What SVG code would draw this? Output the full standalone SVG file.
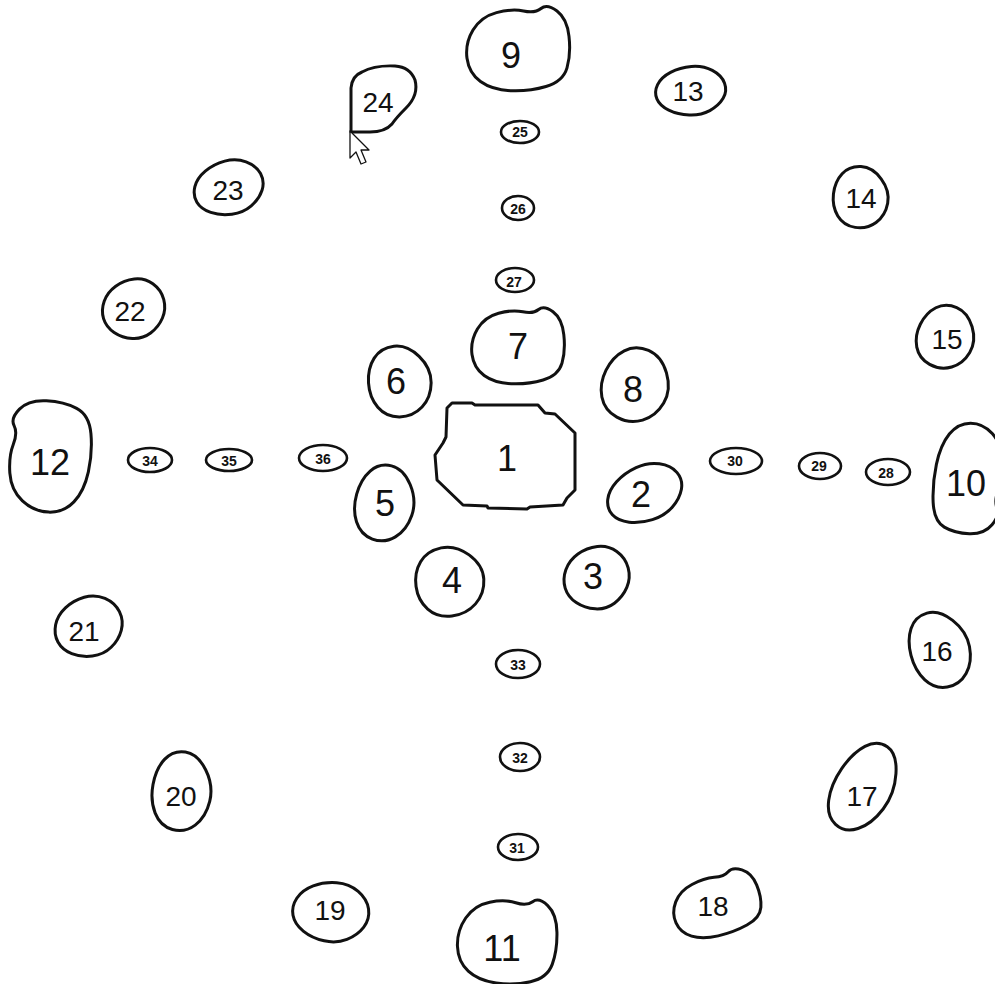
<svg xmlns="http://www.w3.org/2000/svg" xmlns:xlink="http://www.w3.org/1999/xlink" width="995" height="984" viewBox="0 0 995 984">
<style>
.b{fill:#fff;stroke:#111;stroke-width:3;vector-effect:non-scaling-stroke;stroke-linejoin:round}
.s{fill:#fff;stroke:#111;stroke-width:2.6}
.t{font-family:"Liberation Sans",Arial,sans-serif;fill:#111;text-anchor:middle;dominant-baseline:central}
.L{font-size:36px}
.M{font-size:28px}
.S{font-size:14px;font-weight:bold}
</style>
<defs>
<path id="T1" class="b" d="M46,15 Q40,30 27.5,40 Q15,50 -1,49 Q-17,48 -29.5,39 Q-42,30 -46,16 Q-50,2 -45,-13 Q-40,-28 -27,-38 Q-14,-48 2,-50 Q18,-52 31,-42 Q44,-32 48,-16 Q52,0 46,15 Z"/>
<path id="T2" class="b" d="M50,21.5 Q46,38 29,44 Q12,50 -6.5,49 Q-25,48 -36.5,38 Q-48,28 -50,10 Q-52,-8 -44,-24 Q-36,-40 -20.5,-45 Q-5,-50 6.5,-47 Q18,-44 24,-50 Q30,-56 40,-47 Q50,-38 52,-16.5 Q54,5 50,21.5 Z"/>
<path id="T3" class="b" d="M46,10 Q42,30 26,41 Q10,52 -10,49 Q-30,46 -40,30.5 Q-50,15 -47.5,-5 Q-45,-25 -32.5,-37.5 Q-20,-50 0,-49 Q20,-48 35,-29 Q50,-10 46,10 Z"/>
</defs>
<rect width="995" height="984" fill="#fff"/>
<g id="connectors"></g>

<g id="n1"><path class="b" d="M452,403 L472,403 L475,405 L538,405 L545,413 L555,414 L575,433 L575,490 L567,498 L563,505 L530,507 L527,509 L488,508 L487,506 L463,505 L437,480 L435,455 L443,443 L446,437 L447,408 Z"/><text class="t L" x="507" y="458">1</text></g>
<g id="n2"><use xlink:href="#T1" transform="translate(644,494) rotate(-20) scale(0.8,0.55)"/><text class="t L" x="641" y="494">2</text></g>
<g id="n3"><use xlink:href="#T1" transform="translate(596,578) scale(0.67,0.63)"/><text class="t L" x="593" y="576">3</text></g>
<g id="n4"><use xlink:href="#T3" transform="translate(450,581) rotate(-15) scale(0.72,0.7)"/><text class="t L" x="452" y="580">4</text></g>
<g id="n5"><use xlink:href="#T3" transform="translate(385,503) rotate(10) scale(0.62,0.77)"/><text class="t L" x="385" y="503">5</text></g>
<g id="n6"><use xlink:href="#T3" transform="translate(400,381) rotate(-10) scale(0.66,0.72)"/><text class="t L" x="396" y="381">6</text></g>
<g id="n7"><use xlink:href="#T2" transform="translate(517,347) scale(0.9,0.75)"/><text class="t L" x="518" y="346">7</text></g>
<g id="n8"><use xlink:href="#T3" transform="translate(636,385) rotate(20) scale(0.7,0.75)"/><text class="t L" x="633" y="389">8</text></g>
<g id="n9"><use xlink:href="#T2" transform="translate(517,50) scale(1.0,0.83)"/><text class="t L" x="511" y="55">9</text></g>
<g id="n10"><use xlink:href="#T2" transform="translate(968,477) rotate(100) scale(1.07,0.68)"/><text class="t L" x="966" y="483">10</text></g>
<g id="n11"><use xlink:href="#T2" transform="translate(506,942) rotate(5) scale(0.96,0.85)"/><text class="t L" x="502" y="948">11</text></g>
<g id="n12"><use xlink:href="#T2" transform="translate(50,458) rotate(-80) scale(1.07,0.82)"/><text class="t L" x="50" y="462">12</text></g>
<g id="n13"><use xlink:href="#T1" transform="translate(690,91) scale(0.72,0.49)"/><text class="t M" x="688" y="91">13</text></g>
<g id="n14"><use xlink:href="#T3" transform="translate(861,197) scale(0.58,0.62)"/><text class="t M" x="861" y="198">14</text></g>
<g id="n15"><use xlink:href="#T3" transform="translate(946,337) rotate(20) scale(0.6,0.64)"/><text class="t M" x="947" y="339">15</text></g>
<g id="n16"><use xlink:href="#T3" transform="translate(940,649) rotate(-20) scale(0.62,0.78)"/><text class="t M" x="937" y="651">16</text></g>
<g id="n17"><use xlink:href="#T3" transform="translate(864,787) rotate(30) scale(0.6,0.95)"/><text class="t M" x="862" y="796">17</text></g>
<g id="n18"><use xlink:href="#T2" transform="translate(716,906) rotate(-15) scale(0.86,0.6)"/><text class="t M" x="713" y="906">18</text></g>
<g id="n19"><use xlink:href="#T1" transform="translate(330,912) rotate(10) scale(0.78,0.6)"/><text class="t M" x="330" y="910">19</text></g>
<g id="n20"><use xlink:href="#T3" transform="translate(182,791) rotate(5) scale(0.62,0.8)"/><text class="t M" x="181" y="796">20</text></g>
<g id="n21"><use xlink:href="#T1" transform="translate(88,627) rotate(-10) scale(0.7,0.6)"/><text class="t M" x="84" y="631">21</text></g>
<g id="n22"><use xlink:href="#T1" transform="translate(133,309) scale(0.64,0.6)"/><text class="t M" x="130" y="311">22</text></g>
<g id="n23"><use xlink:href="#T1" transform="translate(228,188) rotate(-10) scale(0.72,0.54)"/><text class="t M" x="228" y="190">23</text></g>
<g id="n24"><path class="b" d="M351,132 L351,88 Q352,76 362,72 Q375,65 395,66 Q410,67 415,80 Q419,95 406,108 Q396,118 392,124 Q385,132 370,132 Z"/><text class="t M" x="378" y="102">24</text></g>
<g id="n25"><ellipse class="s" cx="520" cy="132" rx="19" ry="11"/><text class="t S" x="520" y="132">25</text></g>
<g id="n26"><ellipse class="s" cx="518" cy="208" rx="16" ry="12"/><text class="t S" x="518" y="209">26</text></g>
<g id="n27"><ellipse class="s" cx="515" cy="280" rx="19" ry="12"/><text class="t S" x="514" y="282">27</text></g>
<g id="n28"><ellipse class="s" cx="888" cy="472" rx="22" ry="13"/><text class="t S" x="886" y="473">28</text></g>
<g id="n29"><ellipse class="s" cx="820" cy="466" rx="21" ry="13"/><text class="t S" x="819" y="466">29</text></g>
<g id="n30"><ellipse class="s" cx="736" cy="461" rx="26" ry="13"/><text class="t S" x="735" y="461">30</text></g>
<g id="n31"><ellipse class="s" cx="518" cy="847" rx="20" ry="13"/><text class="t S" x="517" y="848">31</text></g>
<g id="n32"><ellipse class="s" cx="520" cy="757" rx="20" ry="14"/><text class="t S" x="520" y="758">32</text></g>
<g id="n33"><ellipse class="s" cx="518" cy="664" rx="22" ry="14"/><text class="t S" x="518" y="665">33</text></g>
<g id="n34"><ellipse class="s" cx="150" cy="460" rx="22" ry="12"/><text class="t S" x="150" y="461">34</text></g>
<g id="n35"><ellipse class="s" cx="229" cy="460" rx="23" ry="11"/><text class="t S" x="229" y="461">35</text></g>
<g id="n36"><ellipse class="s" cx="323" cy="458" rx="24" ry="13"/><text class="t S" x="323" y="459">36</text></g>

<g id="cursor"><path d="M350,131 L350,158 L356,152 L361,164 L366,162 L361,150 L369,150 Z" fill="#fff" stroke="#111" stroke-width="1.3" stroke-linejoin="round"/></g>
</svg>
